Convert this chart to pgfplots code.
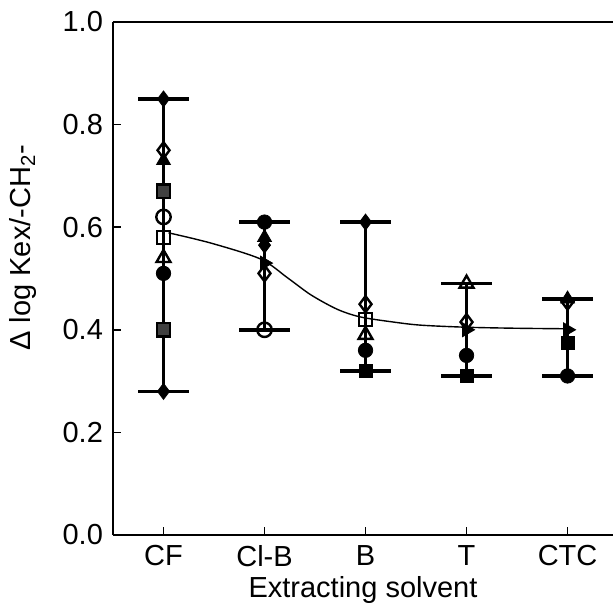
\documentclass[border=0pt]{standalone}
\usepackage{pgfplots}
\pgfplotsset{compat=1.18}
\usepackage{fontspec}
\setmainfont{Liberation Sans}
\begin{document}
\fontsize{14.5}{17}\selectfont
\begin{tikzpicture}
\useasboundingbox (-56.5pt,-34.5pt) rectangle (250pt,267.5pt);
\begin{axis}[at={(0,0)}, anchor=south west, scale only axis,
  width=250pt, height=256.5pt,
  xmin=-0.5, xmax=4.45, ymin=0, ymax=1,
  axis x line=box, axis y line=left,
  axis line style={-, line width=1.2pt},
  xtick={0,1,2,3,4}, xticklabels={CF,Cl-B,B,T,CTC}, xtick pos=bottom,
  ytick={0,0.2,0.4,0.6,0.8,1.0},
  yticklabel style={/pgf/number format/.cd, fixed, fixed zerofill, precision=1},
  /pgf/number format/assume math mode=true,
  tick align=inside, major tick length=4pt,
  tick style={line width=0.8pt, black},
  xlabel={Extracting solvent},
  xlabel style={yshift=5pt},
  ylabel={Δ log Kex/-CH\textsubscript{2}-},
  ylabel style={at={(ticklabel cs:0.56)}, yshift=3pt},
  clip=false,
  every axis plot/.append style={black},
  mark size=3.6pt,
]
% error bars (ranges)
\addplot[line width=1.7pt] coordinates {(0,0.28) (0,0.85)};
\addplot[line width=1.7pt] coordinates {(-0.25,0.85) (0.25,0.85)};
\addplot[line width=1.7pt] coordinates {(-0.25,0.28) (0.25,0.28)};
\addplot[line width=1.7pt] coordinates {(1,0.40) (1,0.61)};
\addplot[line width=1.7pt] coordinates {(0.75,0.61) (1.25,0.61)};
\addplot[line width=1.7pt] coordinates {(0.75,0.40) (1.25,0.40)};
\addplot[line width=1.7pt] coordinates {(2,0.32) (2,0.61)};
\addplot[line width=1.7pt] coordinates {(1.75,0.61) (2.25,0.61)};
\addplot[line width=1.7pt] coordinates {(1.75,0.32) (2.25,0.32)};
\addplot[line width=1.7pt] coordinates {(3,0.31) (3,0.49)};
\addplot[line width=1.7pt] coordinates {(2.75,0.49) (3.25,0.49)};
\addplot[line width=1.7pt] coordinates {(2.75,0.31) (3.25,0.31)};
\addplot[line width=1.7pt] coordinates {(4,0.31) (4,0.46)};
\addplot[line width=1.7pt] coordinates {(3.75,0.46) (4.25,0.46)};
\addplot[line width=1.7pt] coordinates {(3.75,0.31) (4.25,0.31)};
% fitted curve
\addplot[smooth, line width=0.7pt] coordinates {
  (0.05,0.589) (0.47,0.569) (0.96,0.538) (1.23,0.501) (1.46,0.468)
  (1.72,0.440) (1.95,0.425) (2.28,0.415) (2.55,0.409) (3,0.405) (3.5,0.403) (4,0.402)};
% markers
\addplot[only marks, mark=diamond*, mark size=4pt] coordinates {(0,0.85) (0,0.28) (1,0.565) (2,0.61)};
\addplot[only marks, mark=diamond, mark size=4pt, mark options={fill=white, line width=1.2pt}] coordinates {(0,0.75) (1,0.51) (2,0.45) (3,0.415) (4,0.455)};
\addplot[only marks, mark=triangle*, mark size=4pt] coordinates {(0,0.73) (1,0.58) (4,0.46)};
\addplot[only marks, mark=square*, mark size=3.3pt, mark options={fill=black!75, draw=black, line width=1.2pt}] coordinates {(0,0.67) (0,0.40)};
\addplot[only marks, mark=o, mark options={fill=white, line width=1.2pt}] coordinates {(0,0.62) (1,0.40)};
\addplot[only marks, mark=square, mark size=3.3pt, mark options={fill=white, line width=1.2pt}] coordinates {(0,0.58) (2,0.42)};
\addplot[only marks, mark=triangle, mark size=4pt, mark options={fill=white, line width=1.2pt}] coordinates {(0,0.54) (2,0.39) (3,0.49)};
\addplot[only marks, mark=*] coordinates {(0,0.51) (1,0.61) (2,0.36) (3,0.35) (4,0.31)};
\addplot[only marks, mark=square*, mark size=3.3pt] coordinates {(2,0.32) (3,0.31) (4,0.375)};
\addplot[only marks, mark=triangle*, mark size=4pt, mark options={rotate=-90}] coordinates {(1,0.53) (3,0.40) (4,0.40)};
\end{axis}
\end{tikzpicture}
\end{document}
